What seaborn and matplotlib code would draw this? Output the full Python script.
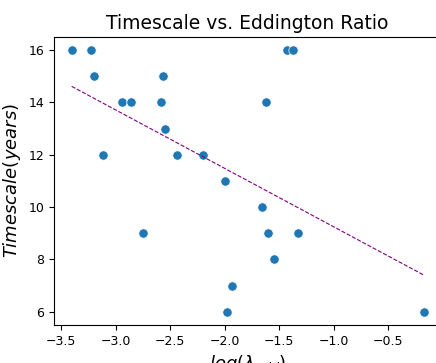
import numpy as np
import matplotlib
matplotlib.use("Agg")
import matplotlib.pyplot as plt
import seaborn as sns

# =========================
# DATA
# =========================

log_edd = [-3.402, -3.225, -3.195, -3.115, -2.938, -2.858, -2.585, -2.564,
           -2.543, -2.436, -2.197, -1.424, -1.372, -1.617, -1.998, -2.745,
           -1.662, -1.598, -1.326, -1.546, -1.934, -1.977, -0.176]
timescale = [16, 16, 15, 12, 14, 14, 14, 15,
             13, 12, 12, 16, 16, 14, 11, 9,
             10, 9, 9, 8, 7, 6, 6]

# =========================
# PLOT
# =========================

fig = plt.figure(figsize=(4.36, 3.63), dpi=100)
ax = fig.add_axes([0.124, 0.105, 0.888, 0.793])

sns.scatterplot(x=log_edd, y=timescale, ax=ax, s=45, color="C0", edgecolor="white", linewidth=0.5)

# linear fit
coef = np.polyfit(log_edd, timescale, 1)
xs = np.linspace(min(log_edd), max(log_edd), 50)
ax.plot(xs, np.polyval(coef, xs), linestyle="--", color="purple", linewidth=0.8)

ax.set_title("Timescale vs. Eddington Ratio", fontsize=13.5)
ax.set_xlabel(r"$log(\lambda_{Edd})$", fontsize=13)
ax.set_ylabel(r"$Timescale(years)$", fontsize=13)
ax.tick_params(labelsize=9)

fig.savefig("out.png", dpi=100)
